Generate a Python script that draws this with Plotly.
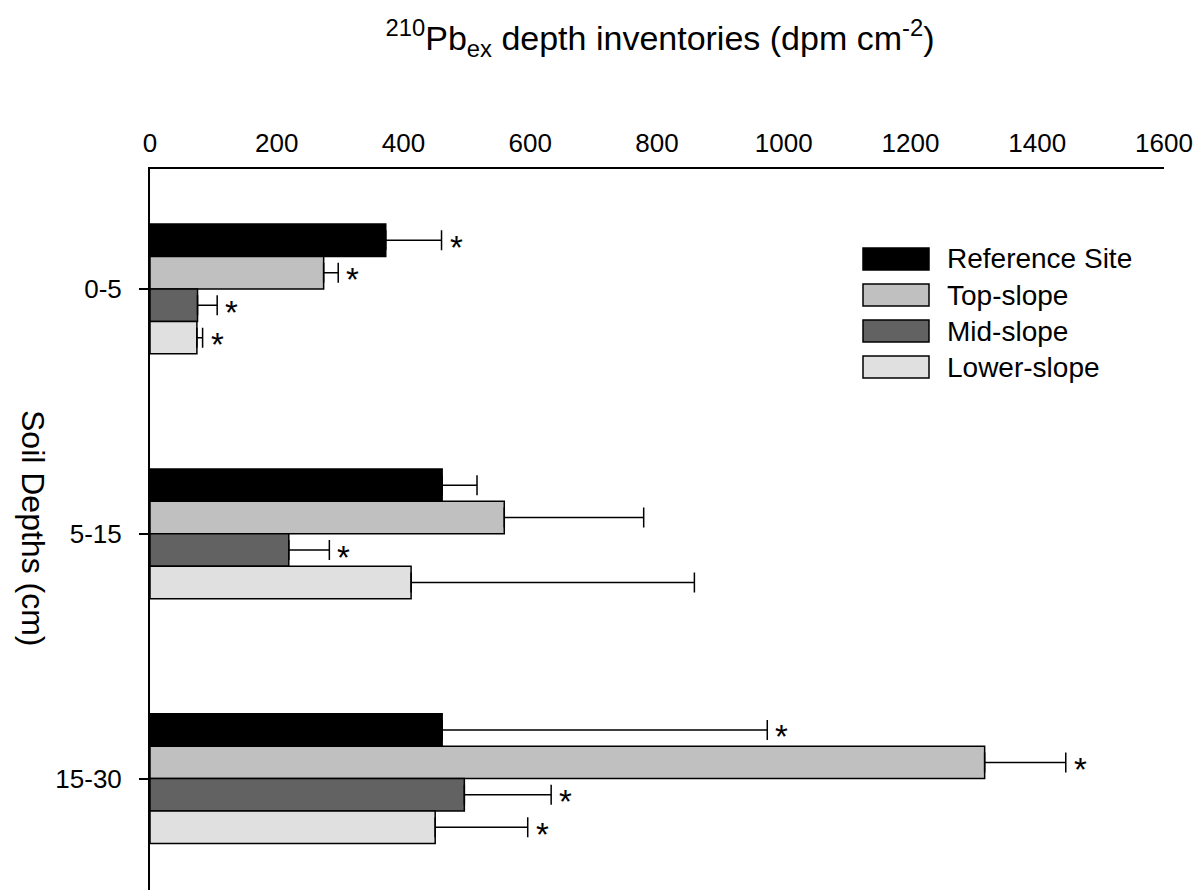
import plotly.graph_objects as go

# ---- data ----
depths = ["0-5", "5-15", "15-30"]
series_names = ["Reference Site", "Top-slope", "Mid-slope", "Lower-slope"]
ref_site = [372, 461, 461]
top_slope = [274, 559, 1317]
mid_slope = [75, 219, 496]
lower_slope = [74, 412, 450]
ref_err = [88, 55, 513]
top_err = [23, 220, 128]
mid_err = [31, 64, 137]
lower_err = [9, 447, 146]
# significance markers (True = asterisk)
ref_sig = [True, False, True]
top_sig = [True, False, True]
mid_sig = [True, True, True]
lower_sig = [True, False, True]

values = [ref_site, top_slope, mid_slope, lower_slope]
errors = [ref_err, top_err, mid_err, lower_err]
sigs = [ref_sig, top_sig, mid_sig, lower_sig]
colors = ["#000000", "#c0c0c0", "#626262", "#e0e0e0"]

FONT = "Liberation Sans, Arial, sans-serif"
W, H = 1203, 894
L, R, T, B = 150, 39, 169, 4
PW, PH = W - L - R, H - T - B
bargap = 0.47

def px_x(p):
    return (p - L) / PW

def px_y(p):
    return (H - B - p) / PH

ypos = list(range(len(depths)))

fig = go.Figure()
for name, vals, errs, col in zip(series_names, values, errors, colors):
    fig.add_trace(go.Bar(
        y=ypos, x=vals, name=name, orientation="h",
        marker=dict(color=col, line=dict(color="black", width=1.5)),
        error_x=dict(type="data", array=errs, arrayminus=[0] * len(errs),
                     symmetric=False, color="black", thickness=1.5, width=10),
        showlegend=False,
    ))

# asterisks
n = len(series_names)
bw = (1 - bargap) / n
annotations = []
for i, (vals, errs, sg) in enumerate(zip(values, errors, sigs)):
    off = -(1 - bargap) / 2 + (i + 0.5) * bw
    for j, (v, e, s) in enumerate(zip(vals, errs, sg)):
        if s:
            annotations.append(dict(
                x=v + e, y=ypos[j] + off, xref="x", yref="y", text="*",
                showarrow=False, xanchor="left", yanchor="middle",
                xshift=6, yshift=-7, font=dict(family=FONT, size=33, color="black")))

# y-axis title (reads top to bottom)
annotations.append(dict(
    x=px_x(33), y=px_y(528), xref="paper", yref="paper", text="Soil Depths (cm)",
    textangle=90, showarrow=False, xanchor="center", yanchor="middle",
    font=dict(family=FONT, size=32, color="black")))

# legend (manual)
shapes = []
row_y = [259, 295, 331, 367]
for name, col, yc in zip(series_names, colors, row_y):
    shapes.append(dict(type="rect", xref="paper", yref="paper",
                       x0=px_x(863), x1=px_x(929), y0=px_y(yc - 11), y1=px_y(yc + 11),
                       fillcolor=col, line=dict(color="black", width=1.5)))
    annotations.append(dict(x=px_x(945), y=px_y(yc), xref="paper", yref="paper",
                            text=name, showarrow=False, xanchor="left", yanchor="middle",
                            font=dict(family=FONT, size=28, color="black")))

fig.update_layout(
    width=W, height=H,
    margin=dict(l=L, r=R, t=T, b=B),
    barmode="group", bargap=bargap, bargroupgap=0,
    plot_bgcolor="white", paper_bgcolor="white",
    font=dict(family=FONT, color="black"),
    title=dict(text="<sup>210</sup>Pb<sub>ex</sub> depth inventories (dpm cm<sup>-2</sup>)",
               x=px_x(660), xref="paper", y=1 - 38 / H, yref="container",
               xanchor="center", yanchor="middle",
               font=dict(family=FONT, size=34, color="black")),
    xaxis=dict(range=[0, 1600], side="top", showline=True, linecolor="black", linewidth=2,
               showgrid=False, zeroline=False, ticks="", tickvals=list(range(0, 1601, 200)),
               tickfont=dict(family=FONT, size=26, color="black"), ticklabelstandoff=5),
    yaxis=dict(range=[-0.5 + (PH / 244), -0.49], showline=True, linecolor="black", linewidth=2,
               showgrid=False, zeroline=False, ticks="outside", ticklen=9, tickwidth=2,
               tickcolor="black", tickvals=ypos, ticktext=depths,
               tickfont=dict(family=FONT, size=26, color="black"), ticklabelstandoff=12),
    annotations=annotations, shapes=shapes,
)

fig.write_html("out.html")
